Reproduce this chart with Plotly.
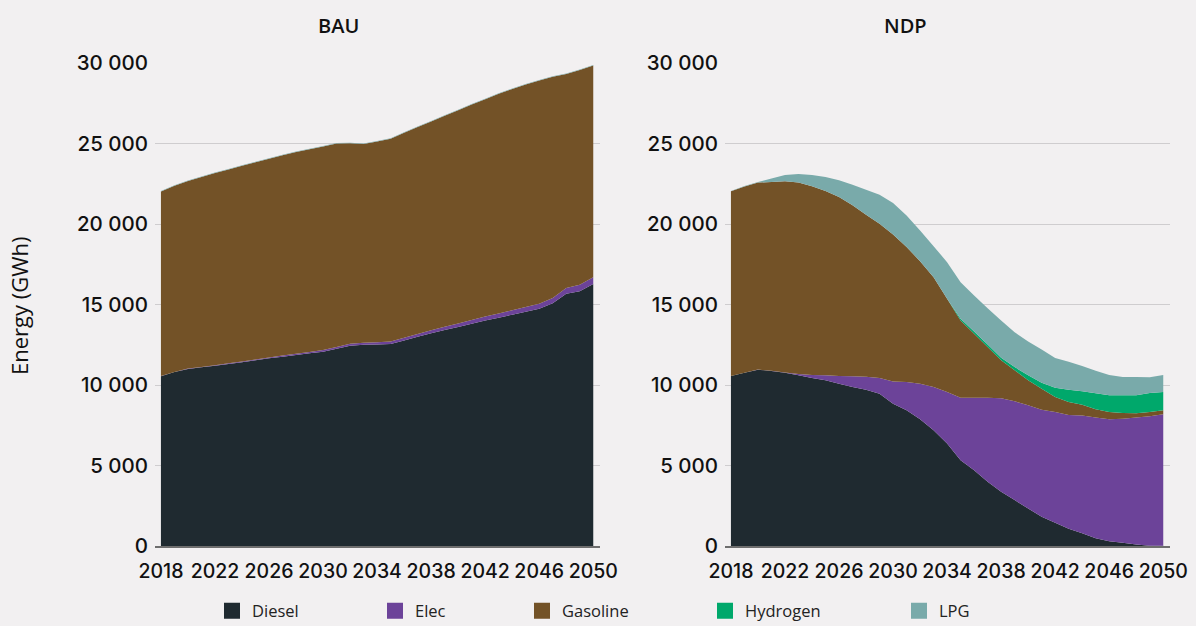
import plotly.graph_objects as go

years = list(range(2018, 2051))

# BAU scenario (GWh)
bau_diesel = [10550, 10800, 11000, 11100, 11200, 11310, 11420, 11540, 11655, 11760, 11860, 11965, 12070,
              12250, 12445, 12500, 12520, 12550, 12770, 12990, 13210, 13410, 13600, 13800, 14000, 14180,
              14370, 14550, 14730, 15080, 15660, 15830, 16280]
bau_elec = [10, 15, 20, 25, 30, 35, 40, 50, 60, 70, 80, 90, 100, 110, 120, 130, 140, 150, 165, 180, 195,
            210, 220, 235, 250, 265, 280, 290, 310, 330, 360, 390, 420]
bau_gasoline = [11460, 11555, 11650, 11795, 11940, 12045, 12160, 12250, 12335, 12440, 12530, 12595, 12650,
                12640, 12455, 12340, 12460, 12590, 12735, 12850, 12965, 13100, 13250, 13385, 13500, 13645,
                13740, 13830, 13880, 13740, 13300, 13350, 13150]
bau_hydrogen = [0] * 33
bau_lpg = [30] * 33

# NDP scenario (GWh)
ndp_diesel = [10560, 10755, 10950, 10870, 10760, 10600, 10430, 10290, 10080, 9875, 9710, 9460, 8840, 8430,
              7870, 7190, 6360, 5330, 4710, 3990, 3370, 2850, 2335, 1820, 1445, 1075, 785, 475, 290, 205,
              100, 20, 10]
ndp_elec = [0, 5, 5, 10, 20, 80, 190, 310, 480, 665, 805, 970, 1385, 1755, 2210, 2685, 3205, 3885, 4505,
            5225, 5800, 6140, 6405, 6650, 6880, 7065, 7315, 7500, 7580, 7705, 7875, 8040, 8170]
ndp_gasoline = [11470, 11575, 11615, 11730, 11870, 11890, 11720, 11450, 11115, 10620, 10065, 9590, 9125,
                8380, 7610, 6825, 5785, 4785, 3965, 3140, 2360, 1920, 1550, 1300, 930, 805, 680, 515, 455,
                355, 270, 265, 250]
ndp_hydrogen = [0] * 16 + [10, 110, 145, 165, 165, 205, 310, 375, 580, 765, 825, 990, 1035, 1095, 1115,
                           1175, 1135]
ndp_lpg = [20, 20, 40, 210, 395, 540, 705, 870, 1035, 1285, 1550, 1800, 1950, 1970, 1910, 1925, 2270, 2275,
           2235, 2250, 2305, 2160, 2095, 2055, 1845, 1740, 1575, 1410, 1260, 1140, 1140, 980, 1055]

series_names = ["Diesel", "Elec", "Gasoline", "Hydrogen", "LPG"]
colors = ["#1f2a30", "#6c4399", "#735227", "#00a86b", "#79aaaa"]

y_tickvals = [0, 5000, 10000, 15000, 20000, 25000, 30000]
y_ticktext = ["0", "5 000", "10 000", "15 000", "20 000", "25 000", "30 000"]
x_tickvals = [2018, 2022, 2026, 2030, 2034, 2038, 2042, 2046, 2050]
x_ticktext = [str(v) for v in x_tickvals]

legend_x_px = [224, 387, 534, 717, 911]

bg = "#f2f0f1"
W, H = 1196, 626

fig = go.Figure()

bau = [bau_diesel, bau_elec, bau_gasoline, bau_hydrogen, bau_lpg]
ndp = [ndp_diesel, ndp_elec, ndp_gasoline, ndp_hydrogen, ndp_lpg]

for name, col, vals in zip(series_names, colors, bau):
    fig.add_trace(go.Scatter(x=years, y=vals, name=name, stackgroup="bau", mode="none",
                             fillcolor=col, line=dict(width=0), showlegend=False,
                             xaxis="x", yaxis="y"))
for name, col, vals in zip(series_names, colors, ndp):
    fig.add_trace(go.Scatter(x=years, y=vals, name=name, stackgroup="ndp", mode="none",
                             fillcolor=col, line=dict(width=0), showlegend=False,
                             xaxis="x2", yaxis="y2"))

# legend entries (square swatches), each in its own legend box to place it like the reference
for i, (name, col) in enumerate(zip(series_names, colors)):
    lg = "legend" if i == 0 else f"legend{i+1}"
    fig.add_trace(go.Scatter(x=[None], y=[None], name=name, mode="markers",
                             marker=dict(symbol="square", size=18, color=col),
                             showlegend=True, legend=lg, xaxis="x", yaxis="y"))

left_dom = [155 / W, 600 / W]
right_dom = [725 / W, 1170 / W]
y_dom = [1 - 546 / H, 1 - 63 / H]

ytickfont = dict(family="Inter, Lato, sans-serif", size=20.5, color="#111111", weight=500)
xtickfont = dict(family="Inter, Lato, sans-serif", size=19.5, color="#111111", weight=500)

xcommon = dict(range=[2017.56, 2050.5], tickvals=x_tickvals, ticktext=x_ticktext, showgrid=False,
               showline=True, linecolor="#6e6e6e", linewidth=2, ticks="", tickfont=xtickfont,
               zeroline=False, fixedrange=True, automargin=False, ticklabelstandoff=7)
ycommon = dict(range=[0, 30000], tickvals=y_tickvals, ticktext=y_ticktext, showgrid=True,
               gridcolor="#cfcdcf", gridwidth=1, zeroline=False, showline=False, ticks="",
               tickfont=ytickfont, ticklabelstandoff=6, fixedrange=True, domain=y_dom, automargin=False)

title_font = dict(family="Open Sans, sans-serif", size=20, color="#111111", weight=600)

layout = dict(
    width=W, height=H, paper_bgcolor=bg, plot_bgcolor=bg,
    margin=dict(l=0, r=0, t=0, b=0, autoexpand=False),
    xaxis=dict(domain=left_dom, anchor="y", **xcommon),
    yaxis=dict(anchor="x", **ycommon),
    xaxis2=dict(domain=right_dom, anchor="y2", **xcommon),
    yaxis2=dict(anchor="x2", **ycommon),
    annotations=[
        dict(text="BAU", x=338 / W, y=1 - 25 / H, xref="paper", yref="paper", xanchor="center",
             yanchor="middle", showarrow=False, font=title_font),
        dict(text="NDP", x=905 / W, y=1 - 25 / H, xref="paper", yref="paper", xanchor="center",
             yanchor="middle", showarrow=False, font=title_font),
        dict(text="Energy (GWh)", x=19 / W, y=1 - 306 / H, xref="paper", yref="paper", textangle=-90,
             xanchor="center", yanchor="middle", showarrow=False,
             font=dict(family="Open Sans, sans-serif", size=22, color="#111111", weight=500)),
    ],
)
for i in range(5):
    key = "legend" if i == 0 else f"legend{i+1}"
    layout[key] = dict(x=(legend_x_px[i] - 12) / W, y=1 - 611 / H, xanchor="left", yanchor="middle",
                       orientation="h", bgcolor="rgba(0,0,0,0)",
                       font=dict(family="Open Sans, sans-serif", size=16.5, color="#222222"),
                       itemwidth=30, tracegroupgap=0)

fig.update_layout(**layout)
fig.write_html("out.html", config={"displayModeBar": False},
               post_script="document.body.style.margin='0';")
